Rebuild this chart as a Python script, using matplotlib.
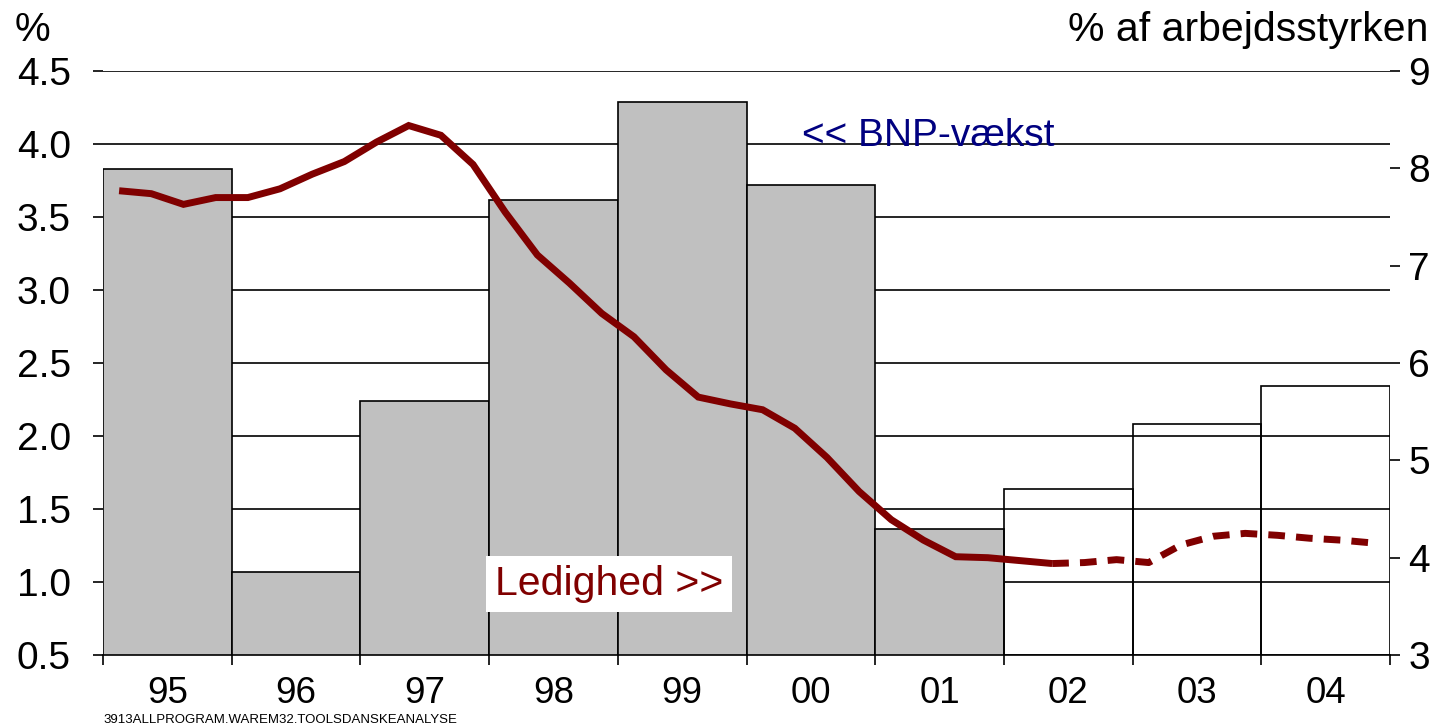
import numpy as np
import matplotlib
matplotlib.use("Agg")
from matplotlib import pyplot as plt

plt.rcParams.update({
    "font.family": ["Liberation Sans", "DejaVu Sans"],
    "font.size": 28,
})

# BNP-vaekst (venstre akse, %) per aar
years = ["95", "96", "97", "98", "99", "00", "01", "02", "03", "04"]
bnp = [3.83, 1.07, 2.24, 3.62, 4.29, 3.72, 1.36, 1.64, 2.08, 2.34]
n_actual = 7  # 95-01 er faktiske tal, 02-04 er prognose

# Ledighed (hoejre akse, % af arbejdsstyrken), kvartalsvis 95K1-04K4
ledighed = [7.77, 7.74, 7.63, 7.70, 7.70, 7.79, 7.94, 8.07, 8.27, 8.44,
            8.34, 8.04, 7.55, 7.11, 6.82, 6.51, 6.27, 5.93, 5.65, 5.58,
            5.52, 5.33, 5.03, 4.68, 4.39, 4.18, 4.01, 4.00, 3.97, 3.94,
            3.95, 3.98, 3.95, 4.13, 4.22, 4.25, 4.23, 4.20, 4.18, 4.15]
n_solid = 30  # sidste faktiske kvartal

left_ticks = [0.5, 1.0, 1.5, 2.0, 2.5, 3.0, 3.5, 4.0, 4.5]
right_ticks = [3, 4, 5, 6, 7, 8, 9]

dark_red = "#800000"

fig = plt.figure(figsize=(14.49, 7.27), dpi=100)
ax = fig.add_axes([0.0711, 0.099, 0.8882, 0.8033])
ax2 = ax.twinx()

x = np.arange(len(years))
colors = ["#c0c0c0"] * n_actual + ["none"] * (len(years) - n_actual)
ax.bar(x, bnp, width=1.0, bottom=0, color=colors, edgecolor="black",
       linewidth=1.2, zorder=2)

ax.set_xlim(-0.5, len(years) - 0.5)
ax.set_ylim(0.5, 4.5)
ax.set_axisbelow(True)
ax.yaxis.grid(True, color="black", linewidth=1.2)

ax.set_yticks(left_ticks)
ax.set_yticklabels([f"{t:.1f}" for t in left_ticks])
ax.tick_params(axis="y", direction="out", length=7.2, width=1.2, pad=16)

# year boundaries as ticks, labels centred under bars
ax.set_xticks(np.arange(len(years) + 1) - 0.5)
ax.set_xticklabels([])
ax.set_xticks(x, minor=True)
ax.set_xticklabels(years, minor=True, fontsize=26.5)
ax.tick_params(axis="x", which="major", direction="out", length=7.2, width=1.2)
ax.tick_params(axis="x", which="minor", length=0, pad=15)

for side in ["left", "top", "right"]:
    ax.spines[side].set_visible(False)
ax.spines["bottom"].set_linewidth(1.2)

# ledighed line on right axis
xq = np.arange(len(ledighed)) / 4 - 0.375
ax2.plot(xq[:n_solid], ledighed[:n_solid], color=dark_red, lw=5,
         solid_capstyle="butt", solid_joinstyle="miter")
ax2.plot(xq[n_solid - 1:], ledighed[n_solid - 1:], color=dark_red, lw=5,
         dashes=(2.4, 1.6), dash_capstyle="butt")
ax2.set_ylim(3, 9)
ax2.set_yticks(right_ticks)
ax2.tick_params(axis="y", direction="out", length=7.2, width=1.2, pad=6)
for side in ["left", "top", "right", "bottom"]:
    ax2.spines[side].set_visible(False)

ax2.text(0.543, 0.888, "<< BNP-vækst", transform=ax.transAxes,
         color="#000080", fontsize=28, va="center", ha="left")
ax2.text(0.3046, 0.1216, "Ledighed >>", transform=ax.transAxes,
         color=dark_red, fontsize=29.5, va="center", ha="left",
         bbox=dict(boxstyle="square,pad=0.22", fc="white", ec="none"))

fig.text(0.010, 0.9587, "%", fontsize=29, va="center", ha="left")
fig.text(0.9855, 0.9587, "% af arbejdsstyrken", fontsize=29.5,
         va="center", ha="right")
fig.text(0.0711, 0.0096, "3913ALLPROGRAM.WAREM32.TOOLSDANSKEANALYSE",
         fontsize=9.5, va="center", ha="left")

fig.savefig("out.png", dpi=100)
